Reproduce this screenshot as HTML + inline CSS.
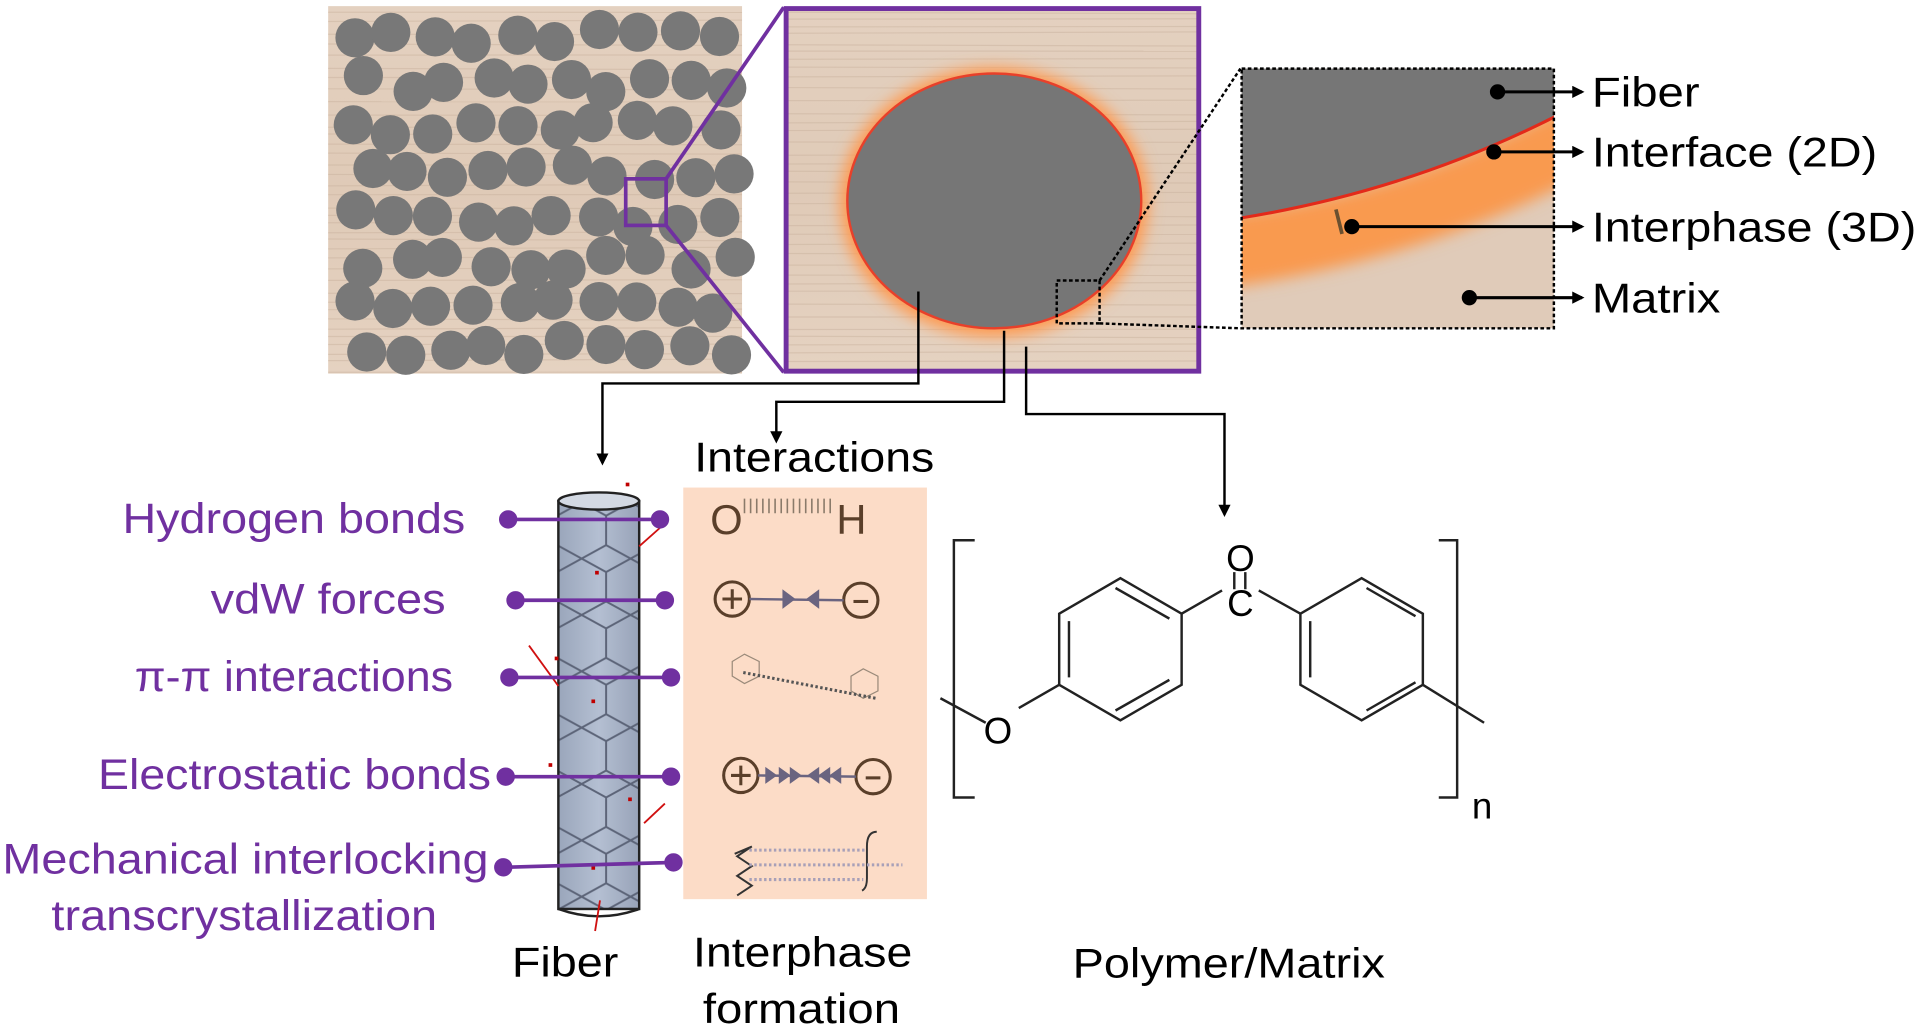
<!DOCTYPE html>
<html><head><meta charset="utf-8"><style>
html,body{margin:0;padding:0;background:#fff;overflow:hidden}
svg{display:block}
text{font-family:"Liberation Sans",Arial,sans-serif}
</style></head><body>
<svg id="s" width="1920" height="1029" viewBox="0 0 1568 840" preserveAspectRatio="none" xmlns="http://www.w3.org/2000/svg">
<defs>
<linearGradient id="wood" x1="0" y1="0" x2="0" y2="1">
<stop offset="0" stop-color="#e4d1c0"/><stop offset="0.5" stop-color="#dfcab7"/><stop offset="1" stop-color="#e5d2c1"/>
</linearGradient>
<linearGradient id="cyl" x1="0" x2="1">
<stop offset="0" stop-color="#9aa6bb"/><stop offset="0.5" stop-color="#b4bfd2"/><stop offset="1" stop-color="#98a3b8"/>
</linearGradient>
<pattern id="hex" width="40" height="46" patternUnits="userSpaceOnUse" x="455" y="410">
<path d="M0 11 L20 0 L40 11 M20 0 V-12 M0 11 V35 L20 46 L40 35 V11 M20 46 V58" fill="none" stroke="#5c6478" stroke-width="1.6"/>
</pattern>
<filter id="blur"><feGaussianBlur stdDeviation="6"/></filter>
<marker id="ar" markerWidth="10" markerHeight="10" refX="8" refY="5" orient="auto" markerUnits="userSpaceOnUse"><path d="M0 0 L10 5 L0 10 Z" fill="#000"/></marker>
</defs>

<rect x="268" y="5" width="338" height="300" fill="url(#wood)"/>
<g id="lines1" stroke="#cbb4a0" stroke-width="1" opacity="0.5"></g>
<g id="circs" fill="#787878"></g>
<rect x="511" y="146" width="33" height="38" fill="none" stroke="#7030a0" stroke-width="3"/>
<line x1="544" y1="146" x2="640" y2="6" stroke="#7030a0" stroke-width="3"/>
<line x1="544" y1="184" x2="640" y2="304" stroke="#7030a0" stroke-width="3"/>

<rect x="642" y="7" width="337" height="296" fill="url(#wood)"/>
<g id="lines2" stroke="#cbb4a0" stroke-width="1" opacity="0.5"></g>
<ellipse cx="812" cy="165" rx="126" ry="110" fill="#ff9a50" filter="url(#blur)"/>
<ellipse cx="812" cy="164" rx="120" ry="104" fill="#767676" stroke="#e8402a" stroke-width="2"/>
<rect x="642" y="7" width="337" height="296" fill="none" stroke="#7030a0" stroke-width="4"/>
<rect x="863" y="229" width="35" height="35" fill="none" stroke="#000" stroke-width="2" stroke-dasharray="3,2"/>
<line x1="898" y1="229" x2="1013" y2="56" stroke="#000" stroke-width="2" stroke-dasharray="3,2"/>
<line x1="898" y1="264" x2="1013" y2="268" stroke="#000" stroke-width="2" stroke-dasharray="3,2"/>

<rect x="1014" y="56" width="255" height="212" fill="#e0cbb9"/>
<clipPath id="ic"><rect x="1014" y="56" width="255" height="212"/></clipPath>
<g clip-path="url(#ic)">
<path d="M1000 175 Q1150 158 1280 85 L1280 150 Q1150 215 1000 235 Z" fill="#f99a50" filter="url(#blur)"/>
<path d="M1000 180 Q1150 158 1280 90 L1280 40 L1000 40 Z" fill="#767676"/>
<path d="M1000 180 Q1150 158 1280 90" fill="none" stroke="#e32a1a" stroke-width="2.5"/>
</g>
<rect x="1014" y="56" width="255" height="212" fill="none" stroke="#000" stroke-width="2" stroke-dasharray="3,2"/>
<line x1="1091" y1="171" x2="1096" y2="191" stroke="#6a5030" stroke-width="3"/>
<g stroke="#000" stroke-width="2.5" fill="#000">
<circle cx="1223" cy="75" r="5"/><line x1="1223" y1="75" x2="1292" y2="75" marker-end="url(#ar)"/>
<circle cx="1220" cy="124" r="5"/><line x1="1220" y1="124" x2="1292" y2="124" marker-end="url(#ar)"/>
<circle cx="1104" cy="185" r="5"/><line x1="1104" y1="185" x2="1292" y2="185" marker-end="url(#ar)"/>
<circle cx="1200" cy="243" r="5"/><line x1="1200" y1="243" x2="1292" y2="243" marker-end="url(#ar)"/>
</g>
<g font-size="34" fill="#000" lengthAdjust="spacingAndGlyphs">
<text x="1300" y="87" textLength="88" lengthAdjust="spacingAndGlyphs">Fiber</text>
<text x="1300" y="136" textLength="233" lengthAdjust="spacingAndGlyphs">Interface (2D)</text>
<text x="1300" y="197" textLength="265" lengthAdjust="spacingAndGlyphs">Interphase (3D)</text>
<text x="1300" y="255" textLength="105" lengthAdjust="spacingAndGlyphs">Matrix</text>
</g>

<g stroke="#000" stroke-width="2" fill="none">
<polyline points="750,238 750,313 492,313 492,378" marker-end="url(#ar)"/>
<polyline points="820,270 820,328 634,328 634,360" marker-end="url(#ar)"/>
<polyline points="838,283 838,338 1000,338 1000,420" marker-end="url(#ar)"/>
</g>

<text x="567" y="385" font-size="34" textLength="196" lengthAdjust="spacingAndGlyphs">Interactions</text>

<rect x="558" y="398" width="199" height="336" fill="#fcdcc7"/>

<rect x="456" y="409" width="66" height="333" fill="url(#cyl)"/>
<rect x="456" y="409" width="66" height="333" fill="url(#hex)"/>
<rect x="456" y="409" width="66" height="333" fill="none" stroke="#222" stroke-width="2"/>
<ellipse cx="489" cy="409" rx="33" ry="7" fill="#d3d9e3" stroke="#222" stroke-width="2"/>
<path d="M456 742 Q489 754 522 742" fill="none" stroke="#222" stroke-width="2"/>
<g stroke="#d01010" stroke-width="1.5">
<line x1="522" y1="446" x2="540" y2="430"/><line x1="432" y1="527" x2="456" y2="560"/>
<line x1="526" y1="672" x2="543" y2="656"/><line x1="490" y1="735" x2="486" y2="760"/>
</g>
<g fill="#c00000"><rect x="511" y="394" width="3" height="3"/><rect x="486" y="466" width="3" height="3"/><rect x="453" y="536" width="3" height="3"/><rect x="483" y="571" width="3" height="3"/><rect x="448" y="623" width="3" height="3"/><rect x="513" y="651" width="3" height="3"/><rect x="483" y="707" width="3" height="3"/></g>

<g stroke="#7030a0" stroke-width="3" fill="#7030a0">
<line x1="415" y1="424" x2="539" y2="424"/><circle cx="415" cy="424" r="6"/><circle cx="539" cy="424" r="6"/>
<line x1="421" y1="490" x2="543" y2="490"/><circle cx="421" cy="490" r="6"/><circle cx="543" cy="490" r="6"/>
<line x1="416" y1="553" x2="548" y2="553"/><circle cx="416" cy="553" r="6"/><circle cx="548" cy="553" r="6"/>
<line x1="413" y1="634" x2="548" y2="634"/><circle cx="413" cy="634" r="6"/><circle cx="548" cy="634" r="6"/>
<line x1="411" y1="708" x2="550" y2="704"/><circle cx="411" cy="708" r="6"/><circle cx="550" cy="704" r="6"/>
</g>
<g font-size="35" fill="#7030a0">
<text x="100" y="435" textLength="280" lengthAdjust="spacingAndGlyphs">Hydrogen bonds</text>
<text x="172" y="501" textLength="192" lengthAdjust="spacingAndGlyphs">vdW forces</text>
<text x="110" y="564" textLength="260" lengthAdjust="spacingAndGlyphs">π-π interactions</text>
<text x="80" y="644" textLength="321" lengthAdjust="spacingAndGlyphs">Electrostatic bonds</text>
<text x="2" y="713" textLength="397" lengthAdjust="spacingAndGlyphs">Mechanical interlocking</text>
<text x="42" y="759" textLength="315" lengthAdjust="spacingAndGlyphs">transcrystallization</text>
</g>

<g fill="#5a3f2a">
<text x="580" y="436" font-size="34">O</text>
<text x="683" y="436" font-size="34">H</text>
</g>
<g stroke="#8a7a6a" stroke-width="1.3"><path d="M608 407v12M613 407v12M618 407v12M623 407v12M628 407v12M633 407v12M638 407v12M643 407v12M648 407v12M653 407v12M658 407v12M663 407v12M668 407v12M673 407v12M678 407v12"/></g>
<g stroke="#5a3f2a" stroke-width="2.5" fill="none">
<circle cx="598" cy="489" r="14"/><path d="M590 489h16M598 481v16"/>
<circle cx="703" cy="490" r="14"/><path d="M697 491h12"/>
<circle cx="605" cy="633" r="14"/><path d="M597 633h16M605 625v16"/>
<circle cx="713" cy="634" r="14"/><path d="M707 635h12"/>
</g>
<g stroke="#6a6480" stroke-width="2" fill="#6a6480">
<line x1="612" y1="489" x2="689" y2="490"/><path d="M640 483l8 6-8 6z M668 483l-8 6 8 6z"/>
<line x1="619" y1="633" x2="699" y2="634"/><path d="M626 628l7 5-7 5z M637 628l7 5-7 5z M646 628l7 5-7 5z M668 628l-7 5 7 5z M677 628l-7 5 7 5z M686 628l-7 5 7 5z"/>
</g>
<g stroke="#9a8a7a" stroke-width="1" fill="none">
<path d="M598 540l10-6 12 6v12l-12 6-10-6z"/><path d="M695 552l10-6 12 6v12l-12 6-10-6z"/>
</g>
<line x1="607" y1="549" x2="715" y2="570" stroke="#555" stroke-width="2.5" stroke-dasharray="2,2"/>
<path d="M600 697 l14 -6 l-12 8 l12 8 l-12 8 l12 8 l-12 8" fill="none" stroke="#333" stroke-width="1.6"/>
<path d="M716 679 q-8 0 -8 12 v26 q0 8 -4 10" fill="none" stroke="#333" stroke-width="1.6"/>
<g stroke="#a8a0b8" stroke-width="2.5" stroke-dasharray="2,2"><line x1="612" y1="694" x2="706" y2="694"/><line x1="612" y1="706" x2="737" y2="706"/><line x1="612" y1="718" x2="705" y2="718"/></g>

<g stroke="#222" stroke-width="2" fill="none">
<path d="M796 441h-17v210h17"/><path d="M1175 441h15v210h-15"/>
<path d="M915 472 L965 501 L965 559 L915 588 L865 559 L865 501 Z"/>
<path d="M873 507 v46 M911 480 l44 25 M911 580 l44 -25"/>
<path d="M1112 472 L1162 501 L1162 559 L1112 588 L1062 559 L1062 501 Z"/>
<path d="M1070 507 v46 M1116 480 l40 23 M1116 580 l40 -23"/>
<path d="M965 501 L998 482 M1028 482 L1062 501"/>
<path d="M1008 467 v14 M1017 467 v14"/>
<path d="M865 559 L832 578 M805 590 L768 570"/>
<path d="M1162 559 L1212 590"/>
</g>
<g font-size="30" fill="#000">
<text x="1013" y="503" text-anchor="middle">C</text>
<text x="1013" y="466" text-anchor="middle">O</text>
<text x="815" y="607" text-anchor="middle">O</text>
<text x="1202" y="668">n</text>
</g>

<g font-size="34" fill="#000">
<text x="418" y="797" textLength="87" lengthAdjust="spacingAndGlyphs">Fiber</text>
<text x="566" y="789" textLength="179" lengthAdjust="spacingAndGlyphs">Interphase</text>
<text x="574" y="835" textLength="161" lengthAdjust="spacingAndGlyphs">formation</text>
<text x="876" y="798" textLength="255" lengthAdjust="spacingAndGlyphs">Polymer/Matrix</text>
</g>
</svg>
<script>
var ns="http://www.w3.org/2000/svg";
function seed(s){return function(){s=(s*9301+49297)%233280;return s/233280;}}
var r=seed(7);
var g=document.getElementById("circs");
var rows=[30,68,104,140,178,215,252,284];
for(var i=0;i<rows.length;i++){
 for(var x=290+(i%2)*10;x<600;x+=33){
  var c=document.createElementNS(ns,"circle");
  var cx=x+(r()-0.5)*10,cy=rows[i]+(r()-0.5)*14;
  if(cx>528&&cx<546&&cy>150&&cy<180){cx=528;}
  c.setAttribute("cx",cx);c.setAttribute("cy",cy);c.setAttribute("r",16);
  g.appendChild(c);
 }
}
["lines1","lines2"].forEach(function(id,k){
 var L=document.getElementById(id);var x0=k?642:268,x1=k?979:606;
 for(var y=10;y<305;y+=5+r()*6){
  var l=document.createElementNS(ns,"line");
  l.setAttribute("x1",x0);l.setAttribute("x2",x1);l.setAttribute("y1",y);l.setAttribute("y2",y+(r()-0.5)*3);
  L.appendChild(l);
 }
});
</script>
</body></html>
